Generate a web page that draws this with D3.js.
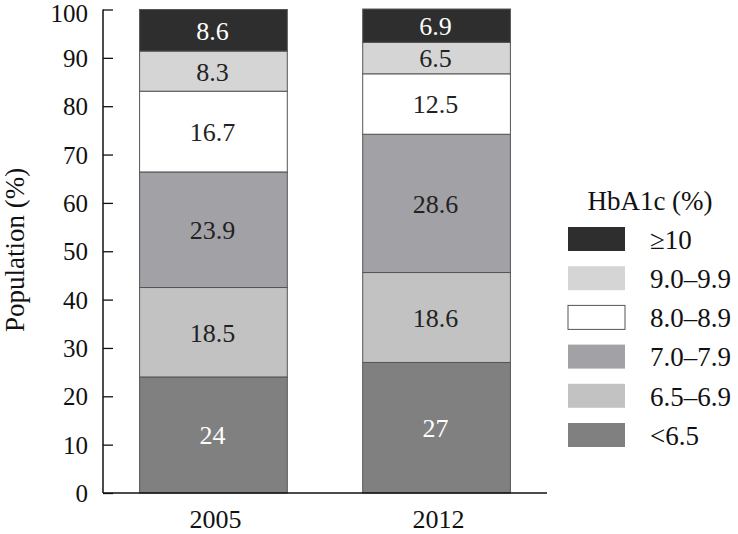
<!DOCTYPE html>
<html>
<head>
<meta charset="utf-8">
<script src="https://cdn.jsdelivr.net/npm/d3@7"></script>
<style>
  body { margin: 0; background: #fff; }
</style>
</head>
<body>
<svg id="chart" width="738" height="534" font-family="'Liberation Serif', 'Times New Roman', Times, serif"></svg>
<script>
// data
const years = ["2005", "2012"];
const groups = ["<6.5", "6.5–6.9", "7.0–7.9", "8.0–8.9", "9.0–9.9", "≥10"];
const values2005 = [24, 18.5, 23.9, 16.7, 8.3, 8.6];
const values2012 = [27, 18.6, 28.6, 12.5, 6.5, 6.9];
const yTicks = [0, 10, 20, 30, 40, 50, 60, 70, 80, 90, 100];

const fills = ["#808080", "#c2c2c2", "#a2a1a5", "#ffffff", "#d5d5d5", "#2e2e2e"];
const labelColors = ["#fff", "#222", "#222", "#222", "#222", "#fff"];

const svg = d3.select("#chart");
const plotLeft = 103, plotRight = 547, plotTop = 9.5, plotBottom = 493;

const x = d3.scaleBand()
    .domain(years)
    .range([plotLeft, plotRight])
    .paddingInner(0.338)
    .paddingOuter(0.164);

const y = d3.scaleLinear()
    .domain([0, 100])
    .range([plotBottom, plotTop]);

// stack the rows by year
const rows = years.map((yr, i) => {
    const vals = i === 0 ? values2005 : values2012;
    const row = { year: yr };
    groups.forEach((g, j) => row[g] = vals[j]);
    return row;
});
const stacked = d3.stack().keys(groups)(rows);

// bars
const layer = svg.append("g")
    .selectAll("g")
    .data(stacked)
    .join("g")
    .attr("fill", (d, i) => fills[i]);

layer.selectAll("rect")
    .data(d => d)
    .join("rect")
    .attr("x", d => x(d.data.year))
    .attr("y", d => y(d[1]))
    .attr("width", x.bandwidth())
    .attr("height", d => y(d[0]) - y(d[1]))
    .attr("stroke", "#555")
    .attr("stroke-width", 1);

// segment labels
stacked.forEach((s, i) => {
    svg.append("g")
        .selectAll("text")
        .data(s)
        .join("text")
        .attr("x", d => x(d.data.year) + x.bandwidth() / 2 - 1)
        .attr("y", d => y((d[0] + d[1]) / 2))
        .attr("dy", "0.36em")
        .attr("text-anchor", "middle")
        .attr("font-size", 26)
        .attr("fill", labelColors[i])
        .text(d => d.data[s.key]);
});

// y axis, ticks pointing inward
const yAxis = svg.append("g")
    .attr("transform", `translate(${plotLeft},0)`)
    .call(d3.axisRight(y).tickValues(yTicks).tickSize(10).tickFormat(""));
yAxis.select(".domain").remove();
yAxis.selectAll(".tick line").attr("stroke", "#111").attr("stroke-width", 1.3);

svg.append("line")
    .attr("x1", plotLeft).attr("x2", plotLeft)
    .attr("y1", y(100)).attr("y2", y(0))
    .attr("stroke", "#111").attr("stroke-width", 1.5);

svg.append("g")
    .selectAll("text")
    .data(yTicks)
    .join("text")
    .attr("x", 88)
    .attr("y", d => y(d))
    .attr("dy", d => d === 100 ? "0.5em" : "0.36em")
    .attr("text-anchor", "end")
    .attr("font-size", 25)
    .attr("fill", "#111")
    .text(d => d);

// x axis
svg.append("line")
    .attr("x1", plotLeft).attr("x2", plotRight)
    .attr("y1", plotBottom).attr("y2", plotBottom)
    .attr("stroke", "#111").attr("stroke-width", 1.5);

svg.append("g")
    .selectAll("text")
    .data(years)
    .join("text")
    .attr("x", d => x(d) + x.bandwidth() / 2 + 2)
    .attr("y", 528)
    .attr("text-anchor", "middle")
    .attr("font-size", 26)
    .attr("fill", "#111")
    .text(d => d);

// y title
svg.append("text")
    .attr("transform", "translate(24,250) rotate(-90)")
    .attr("text-anchor", "middle")
    .attr("font-size", 27)
    .attr("fill", "#111")
    .text("Population (%)");

// legend
const legend = svg.append("g");
legend.append("text")
    .attr("x", 650)
    .attr("y", 210)
    .attr("text-anchor", "middle")
    .attr("font-size", 27)
    .attr("fill", "#111")
    .text("HbA1c (%)");

const legendOrder = groups.map((g, i) => i).reverse();
const items = legend.selectAll("g.item")
    .data(legendOrder)
    .join("g")
    .attr("class", "item")
    .attr("transform", (d, k) => `translate(568,${227 + k * 39.2})`);

items.append("rect")
    .attr("width", 57)
    .attr("height", 24)
    .attr("fill", d => fills[d])
    .attr("stroke", d => fills[d] === "#ffffff" ? "#555" : "none");

items.append("text")
    .attr("x", 82)
    .attr("y", 12)
    .attr("dy", "0.36em")
    .attr("font-size", 27)
    .attr("fill", "#111")
    .text(d => groups[d]);
</script>
</body>
</html>
